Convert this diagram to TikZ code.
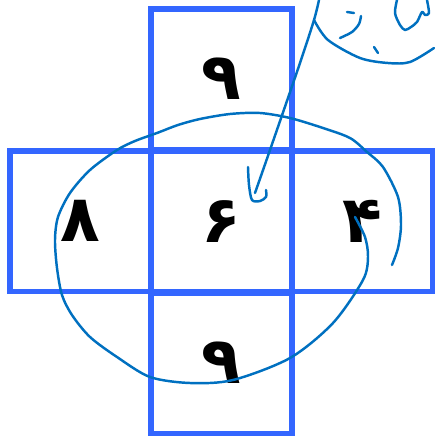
\documentclass[tikz,border=0pt]{standalone}
\usepackage{fontspec}
\newfontfamily\arabicfont[Script=Arabic]{DejaVu Sans}
\definecolor{boxblue}{RGB}{51,102,255}
\definecolor{penblue}{RGB}{0,112,192}
\begin{document}
\begin{tikzpicture}[x=0.02cm,y=-0.02cm,
  cell/.style={draw=boxblue, line width=3.4pt, minimum size=2.82cm, inner sep=0pt,
    font=\arabicfont\bfseries\fontsize{37}{40}\selectfont},
  pen/.style={draw=penblue, line width=1.4pt, line cap=round, line join=round}]
\useasboundingbox (0,0) rectangle (434,440);
\node[cell] (1) at (221.5,79) {۹};
\node[cell] (2) at (80.5,221) {۸};
\node[cell] (3) at (221.5,221) {۶};
\node[cell] (4) at (362,221) {۴};
\node[cell] (5) at (221.5,363) {۹};
% loop round the cross
\path[pen] plot[smooth] coordinates {(392,265) (398,248) (401,225) (398,197) (383,167) (367,152) (350,138) (323,128) (290,118) (260,113) (230,114) (200,119) (178,125) (157,133) (135,141) (117,150) (90,170) (70,193) (58,217) (55,240) (57,268) (62,295) (72,315) (90,337) (117,357) (150,377) (190,383) (233,380) (290,358) (333,323) (363,280) (368,257) (365,237) (355,217)};
% arrow into the middle
\path[pen] plot[smooth] coordinates {(319,0) (314,20) (300,63) (270,150) (255,193)};
\path[pen] plot[smooth] coordinates {(248,167) (249,185) (252,200) (260,201) (266,197) (266,190)};
% writing at the top
\path[pen] plot[smooth] coordinates {(314,20) (328,40) (360,58) (388,63) (410,62) (434,48)};
\path[pen] (347,12) -- (354,13);
\path[pen] plot[smooth] coordinates {(340,38) (352,32) (359,24) (361,16)};
\path[pen] (374,47) -- (378,53);
\path[pen] plot[smooth] coordinates {(397,0) (395,13) (400,25) (405,30) (411,27) (417,22) (422,12) (425,15) (429,13) (427,0)};
\end{tikzpicture}
\end{document}
